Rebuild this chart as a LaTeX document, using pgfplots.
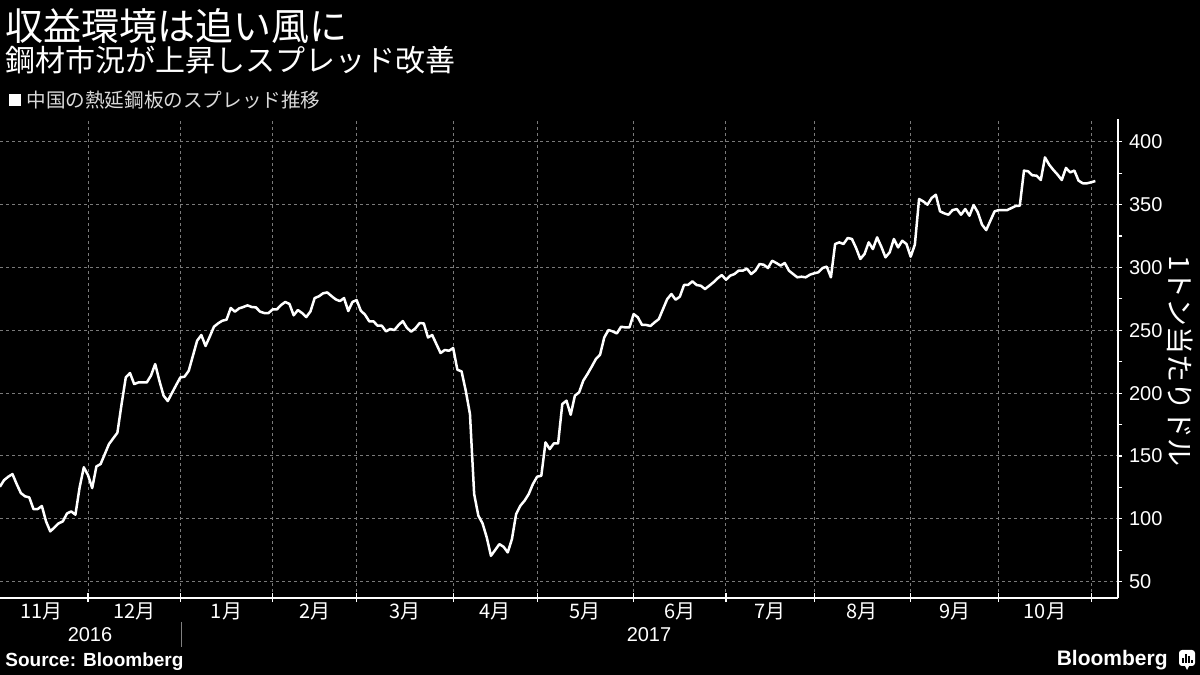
\documentclass[border=0pt]{standalone}
\usepackage{fontspec}
\setmainfont{Liberation Sans}
\newfontfamily\jp{Noto Sans CJK JP}
\usepackage{pgfplots}
\pgfplotsset{compat=1.18}
\definecolor{gridgray}{HTML}{7A7A7A}
\definecolor{softwhite}{HTML}{D9D9D9}

% spread, USD per tonne; x = weekday index from 1 Nov 2016
\pgfplotstableread{
d v
1 125.5
2 130.8
3 133.5
4 135.6
5 127.7
6 120.5
7 117.9
8 117.1
9 107.8
10 107.8
11 110.2
12 98.0
13 90.0
14 93.2
15 96.4
16 98.0
17 104.3
18 105.9
19 103.3
20 125.0
21 141.0
22 134.8
23 124.5
24 141.7
25 143.6
26 151.5
27 159.5
28 164.0
29 168.5
30 191.3
31 212.5
32 216.0
33 207.2
34 208.5
35 208.5
36 208.5
37 213.9
38 223.1
39 209.9
40 198.0
41 193.7
42 200.1
43 206.4
44 212.5
45 213.1
46 217.8
47 229.8
48 241.7
49 246.2
50 237.5
51 244.9
52 252.8
53 255.5
54 257.6
55 258.4
56 267.7
57 264.8
58 267.4
59 268.5
60 269.8
61 268.5
62 268.2
63 264.8
64 263.7
65 263.7
66 266.6
67 266.6
68 270.1
69 272.5
70 270.9
71 261.9
72 266.1
73 263.7
74 260.5
75 265.0
76 275.6
77 277.0
78 279.4
79 280.1
80 277.2
81 274.6
82 273.2
83 275.6
84 265.3
85 272.5
86 274.0
87 265.5
88 262.4
89 257.1
90 257.1
91 253.6
92 253.6
93 249.1
94 251.0
95 250.2
96 254.2
97 257.3
98 251.8
99 248.9
100 251.5
101 255.7
102 255.5
103 244.3
104 246.2
105 239.0
106 231.9
107 234.3
108 233.7
109 235.9
110 218.6
111 217.3
112 201.9
113 183.4
114 119.7
115 102.5
116 96.4
117 85.2
118 70.6
119 75.2
120 79.9
121 77.8
122 73.3
123 83.9
124 103.8
125 110.4
126 114.4
127 119.7
128 127.7
129 133.5
130 134.3
131 160.8
132 155.5
133 160.0
134 160.0
135 191.3
136 194.0
137 182.8
138 198.0
139 200.6
140 209.9
141 215.2
142 221.0
143 227.1
144 230.6
145 244.3
146 250.2
147 249.1
148 247.5
149 252.8
150 252.3
151 252.3
152 262.9
153 260.3
154 254.2
155 254.2
156 253.4
157 256.3
158 258.9
159 266.9
160 274.8
161 278.8
162 274.3
163 276.7
164 286.0
165 286.2
166 288.9
167 286.0
168 285.4
169 282.8
170 285.4
171 288.1
172 291.3
173 293.9
174 290.2
175 293.4
176 294.7
177 297.4
178 297.4
179 299.0
180 294.7
181 297.4
182 302.7
183 302.1
184 299.5
185 305.3
186 303.5
187 301.4
188 303.5
189 297.4
190 294.7
191 292.1
192 292.6
193 292.1
194 294.2
195 295.3
196 296.1
197 299.5
198 300.6
199 292.1
200 318.6
201 319.9
202 318.6
203 323.4
204 322.6
205 315.4
206 306.7
207 310.6
208 319.9
209 314.6
210 323.9
211 316.5
212 308.0
213 312.0
214 322.6
215 315.9
216 321.2
217 318.6
218 308.5
219 318.1
220 354.4
221 352.5
222 349.9
223 355.2
224 357.8
225 344.6
226 343.0
227 341.9
228 345.6
229 346.4
230 341.9
231 346.4
232 341.1
233 349.6
234 343.8
235 334.0
236 329.7
237 337.2
238 344.6
239 345.6
240 345.6
241 345.6
242 347.2
243 348.8
244 349.1
245 377.0
246 376.4
247 373.2
248 373.0
249 369.5
250 387.5
251 381.7
252 377.5
253 373.8
254 369.5
255 379.1
256 375.6
257 377.0
258 369.0
259 366.9
260 366.9
261 367.7
262 368.7
}\spreadtable

\begin{document}
\begin{tikzpicture}[x=0.5pt,y=0.5pt]
\fill[black] (0,0) rectangle (1200,675);
\useasboundingbox (0,0) rectangle (1200,675);

\begin{axis}[
    at={(0,61.5)}, anchor=south west,
    scale only axis, width=559pt, height=239.5pt,
    xmin=1.03, xmax=267.4,
    ymin=37.3, ymax=418.3,
    axis x line*=bottom, axis y line*=right,
    axis line style={white, line width=0.9pt},
    tick align=outside,
    major tick length=2pt, minor tick length=2.2pt,
    tick style={white, line width=0.6pt},
    xtick={11,33,55,76,97.5,119,140.5,163,184.5,206.5,228.5,250},
    xticklabels={11月,12月,1月,2月,3月,4月,5月,6月,7月,8月,9月,10月},
    major x tick style={draw=none},
    xticklabel style={font=\jp\fontsize{10}{12}\selectfont, text=white, yshift=3pt},
    extra x ticks={22,44,66,86,109,129,152,174,195,218,239,261},
    extra x tick labels={},
    extra x tick style={major x tick style={draw=white, line width=0.6pt},
        tick align=center, major tick length=4.5pt, grid=major},
    ytick={50,100,...,400},
    minor y tick num=1,
    ymajorgrids=true,
    major grid style={gridgray, line width=0.5pt, dash pattern=on 1.5pt off 1.5pt},
    yticklabel style={font=\fontsize{10}{12}\selectfont, text=white},
    /pgf/number format/assume math mode=true,
    clip=false,
]
\addplot[white, line width=1.25pt, line join=round] table[x=d, y=v] {\spreadtable};
\end{axis}

% titles
\node[anchor=west, text=white, inner sep=0, font=\jp\fontsize{19}{22}\selectfont] at (5,649) {収益環境は追い風に};
\node[anchor=west, text=white, inner sep=0, font=\jp\fontsize{15}{18}\selectfont] at (5,615) {鋼材市況が上昇しスプレッド改善};
\fill[white] (9,569) rectangle (21,581);
\node[anchor=west, text=softwhite, inner sep=0, font=\jp\fontsize{9.8}{12}\selectfont] at (26,575) {中国の熱延鋼板のスプレッド推移};

% axis title on the right
\node[rotate=-90, text=white, font=\jp\fontsize{14}{16}\selectfont] at (1180,314) {1トン当たりドル};

% years
\node[text=white, font=\fontsize{10}{12}\selectfont] at (90,40) {2016};
\node[text=white, font=\fontsize{10}{12}\selectfont] at (649,40) {2017};
\draw[gray, line width=0.5pt] (181,53) -- (181,28);

% footer
\node[anchor=west, text=white, inner sep=0, font=\bfseries\fontsize{9.5}{11}\selectfont] at (5,13) {Source: Bloomberg};
\node[anchor=east, text=white, inner sep=0, font=\bfseries\fontsize{10.5}{12}\selectfont] at (1168,15) {Bloomberg};
\fill[white, rounded corners=1.5pt] (1179,9) rectangle (1195,25);
\fill[white] (1185,9) -- (1189,9) -- (1187,5) -- cycle;
\draw[black, line width=1pt] (1183,12) -- (1183,17) (1186,12) -- (1186,21) (1189,12) -- (1189,19) (1192,12) -- (1192,15);
\end{tikzpicture}
\end{document}
